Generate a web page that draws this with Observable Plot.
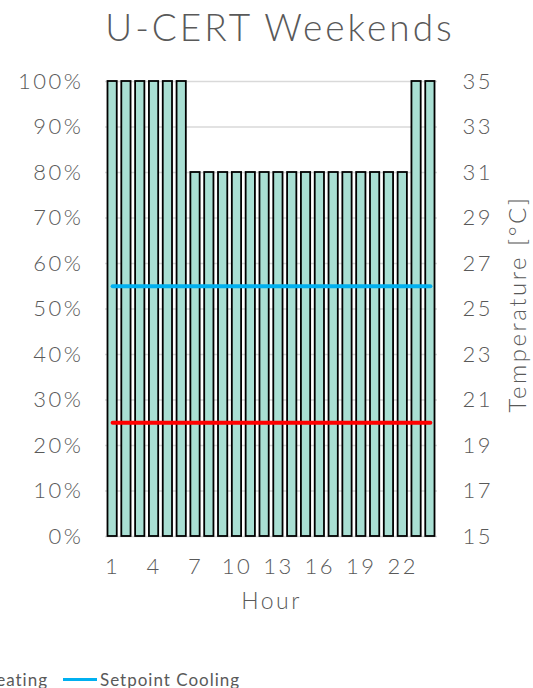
<!DOCTYPE html>
<html>
<head>
<meta charset="utf-8">
<script src="https://cdn.jsdelivr.net/npm/d3@7"></script>
<script src="https://cdn.jsdelivr.net/npm/@observablehq/plot@0.6"></script>
<style>
  html, body { margin: 0; padding: 0; background: #fff; overflow: hidden; }
  #wrap { position: relative; width: 533px; height: 688px; font-family: Lato, sans-serif; color: #595959; }
  #title { position: absolute; left: 0; width: 560px; top: 4px; text-align: center; font-size: 37px; font-weight: 300; letter-spacing: 3px; }
  .leg { position: absolute; top: 669px; display: flex; align-items: center; font-size: 17px; letter-spacing: 1px; white-space: nowrap; }
  .leg .sw { width: 34px; height: 3px; margin-right: 3px; }
  #chart { position: absolute; left: 0; top: 0; }
</style>
</head>
<body>
<div id="wrap">
  <div id="chart"></div>
  <div id="title">U-CERT Weekends</div>
  <div class="leg" id="legHeat" style="right: 485px;"><span class="sw" style="background:#ff0000"></span>Setpoint Heating</div>
  <div class="leg" id="legCool" style="left: 63px;"><span class="sw" style="background:#00b0f0"></span>Setpoint Cooling</div>
</div>
<script>
const hours = d3.range(1, 25);
const occupancy = [1,1,1,1,1,1,0.8,0.8,0.8,0.8,0.8,0.8,0.8,0.8,0.8,0.8,0.8,0.8,0.8,0.8,0.8,0.8,1,1];
const setpointHeating = hours.map(() => 20);
const setpointCooling = hours.map(() => 26);
const xTicks = [1,4,7,10,13,16,19,22];
const pctTicks = d3.range(0, 11).map(d => d / 10);
const tempMin = 15, tempMax = 35;

const occData = hours.map((h, i) => ({hour: h, occ: occupancy[i]}));
const toFrac = t => (t - tempMin) / (tempMax - tempMin);
const heatData = hours.map((h, i) => ({hour: h, v: toFrac(setpointHeating[i])}));
const coolData = hours.map((h, i) => ({hour: h, v: toFrac(setpointCooling[i])}));

const chart = Plot.plot({
  width: 533,
  height: 688,
  marginTop: 81,
  marginBottom: 152,
  marginLeft: 105,
  marginRight: 96,
  style: {fontFamily: "Lato, sans-serif", fontSize: "21px", color: "#595959", background: "transparent", letterSpacing: "2.5px"},
  x: {type: "band", domain: hours, paddingInner: 0.33, paddingOuter: 0.18, align: 0.5, round: false},
  y: {domain: [0, 1]},
  marks: [
    Plot.gridY(pctTicks, {stroke: "#d9d9d9", strokeOpacity: 1, strokeWidth: 1.3}),
    Plot.barY(occData, {x: "hour", y: "occ", fill: "#a9dfd3", stroke: "#000", strokeWidth: 1.8}),
    Plot.lineY(heatData, {x: "hour", y: "v", stroke: "#ff0000", strokeWidth: 4, strokeLinecap: "round"}),
    Plot.lineY(coolData, {x: "hour", y: "v", stroke: "#00b0f0", strokeWidth: 4, strokeLinecap: "round"}),
    Plot.axisY(pctTicks, {anchor: "left", tickSize: 0, tickPadding: 22, tickFormat: d => Math.round(d * 100) + "%", fontSize: 22, fontWeight: 300, label: null}),
    Plot.axisY(pctTicks, {anchor: "right", tickSize: 0, tickPadding: 25, tickFormat: d => String(tempMin + Math.round(d * (tempMax - tempMin))), fontSize: 22, fontWeight: 300, label: null}),
    Plot.axisX(xTicks, {anchor: "bottom", tickSize: 0, tickPadding: 22, fontSize: 22, fontWeight: 300, label: null}),
    Plot.text(["Hour"], {frameAnchor: "bottom", dy: 72, fontSize: 23, fontWeight: 300, fill: "#595959"}),
    Plot.text(["Temperature [°C]"], {frameAnchor: "right", dx: 81, dy: -5, rotate: -90, textAnchor: "middle", fontSize: 24, fontWeight: 300, fill: "#595959"})
  ]
});
document.getElementById("chart").appendChild(chart);
</script>
</body>
</html>
